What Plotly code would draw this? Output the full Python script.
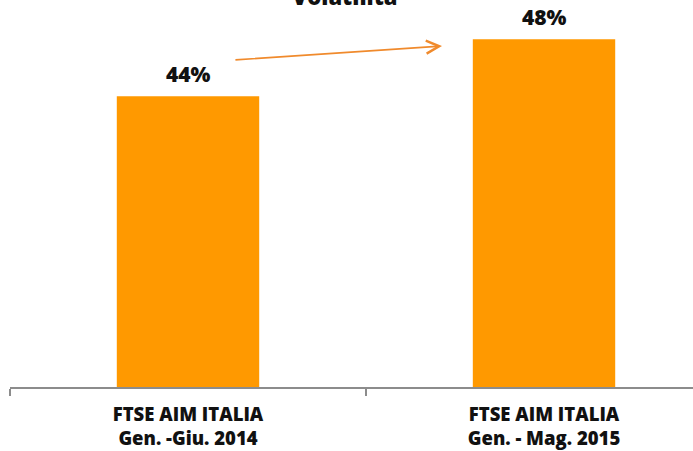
import plotly.graph_objects as go

categories = ["FTSE AIM ITALIA<br>Gen. -Giu. 2014", "FTSE AIM ITALIA<br>Gen. - Mag. 2015"]
values = [44, 48]
value_labels = ["44%", "48%"]
title_text = "Volatilità"

BAR_COLOR = "#FF9900"
ARROW_COLOR = "#F08A2C"
AXIS_COLOR = "#8C8C8C"
FONT = "Open Sans"

fig = go.Figure()
fig.add_trace(go.Bar(
    x=categories, y=values, width=0.4,
    marker=dict(color=BAR_COLOR, line=dict(width=0)),
    hoverinfo="skip",
))

for c, v, t in zip(categories, values, value_labels):
    fig.add_annotation(x=c, y=v, text=t, showarrow=False,
                       yanchor="bottom", yshift=6,
                       font=dict(family=FONT, size=21, color="#111111", weight=800))

fig.add_annotation(x=0.7135, y=47.53, ax=0.129, ay=46.55,
                   xref="x", yref="y", axref="x", ayref="y",
                   text="", showarrow=True, arrowhead=5, arrowsize=1.6,
                   arrowwidth=1.6, arrowcolor=ARROW_COLOR, standoff=0)

fig.add_annotation(x=0.49, y=1, xref="paper", yref="paper",
                   text=title_text, showarrow=False,
                   yanchor="bottom", yshift=-13,
                   font=dict(family=FONT, size=22, color="#111111", weight=800))

fig.update_layout(
    width=693, height=451,
    margin=dict(l=10, r=0, t=0, b=64, autoexpand=False),
    paper_bgcolor="white", plot_bgcolor="white",
    showlegend=False,
    bargap=0.6,
)
fig.update_xaxes(
    type="category", range=[-0.5, 1.4185], automargin=False,
    showline=True, linecolor=AXIS_COLOR, linewidth=1.5,
    ticks="outside", tickson="boundaries", ticklen=7, tickcolor=AXIS_COLOR, tickwidth=1.5,
    showgrid=False, zeroline=False,
    tickfont=dict(family=FONT, size=18.5, color="#111111", weight=800),
    ticklabelstandoff=10,
)
fig.update_yaxes(range=[23.6, 50.76], visible=False, showgrid=False, zeroline=False, automargin=False)

fig.write_html("out.html", config={"displayModeBar": False},
               post_script="document.body.style.margin='0';document.body.style.overflow='hidden';")
